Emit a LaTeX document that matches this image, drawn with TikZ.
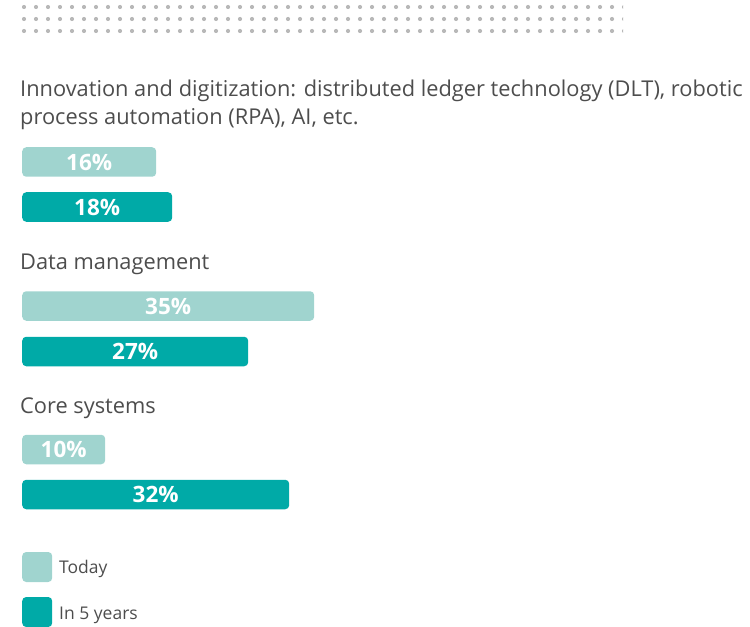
\documentclass[tikz,border=0pt]{standalone}
\usepackage{fontspec}
\setmainfont{Open Sans}
\definecolor{lightteal}{HTML}{A0D4CF}
\definecolor{darkteal}{HTML}{00AAA7}
\definecolor{txt}{HTML}{4D4D4D}
\definecolor{dotc}{HTML}{B8B8B8}
\tikzset{
  bar/.style={anchor=west, minimum height=29.5bp, inner sep=0pt, rounded corners=4bp,
    text=white, font=\bfseries\fontsize{22.5bp}{24bp}\selectfont},
  todaybar/.style={bar, fill=lightteal},
  futbar/.style={bar, fill=darkteal},
  cat/.style={anchor=base west, inner sep=0pt, text=txt, align=left,
    font=\fontsize{21.8bp}{28.5bp}\selectfont},
  legsq/.style={minimum width=30bp, minimum height=30bp, inner sep=0pt, rounded corners=4bp, anchor=west},
  legtxt/.style={anchor=base west, inner sep=0pt, text=txt, font=\fontsize{17.5bp}{20bp}\selectfont}
}
\begin{document}
\begin{tikzpicture}[x=1bp,y=-1bp]
\useasboundingbox (0,0) rectangle (750,627);
\begin{scope}
\clip (0,0) rectangle (623,40);
\foreach \i in {0,...,50}{
  \foreach \j in {7,19,31}{
    \fill[dotc] (24+12*\i,\j) circle (2.1bp);
  }
}
\end{scope}
\node[cat] (c1) at (20,96.7) {Innovation and digitization: distributed ledger technology (DLT), robotic};
\node[cat] (c1b) at (20,125) {process automation (RPA), AI, etc.};
\node[todaybar, minimum width=134bp] (b1) at (22,162) {16\%};
\node[futbar, minimum width=150bp] (b2) at (22,207) {18\%};
\node[cat] (c2) at (20,269) {Data management};
\node[todaybar, minimum width=292bp] (b3) at (22,306) {35\%};
\node[futbar, minimum width=226bp] (b4) at (22,351.5) {27\%};
\node[cat] (c3) at (20,413) {Core systems};
\node[todaybar, minimum width=83bp] (b5) at (22,449.5) {10\%};
\node[futbar, minimum width=267bp] (b6) at (22,494.5) {32\%};
\node[legsq, fill=lightteal] (l1) at (22,567) {};
\node[legtxt] (t1) at (59,573.3) {Today};
\node[legsq, fill=darkteal] (l2) at (22,612) {};
\node[legtxt] (t2) at (59,619) {In 5 years};
\end{tikzpicture}
\end{document}
